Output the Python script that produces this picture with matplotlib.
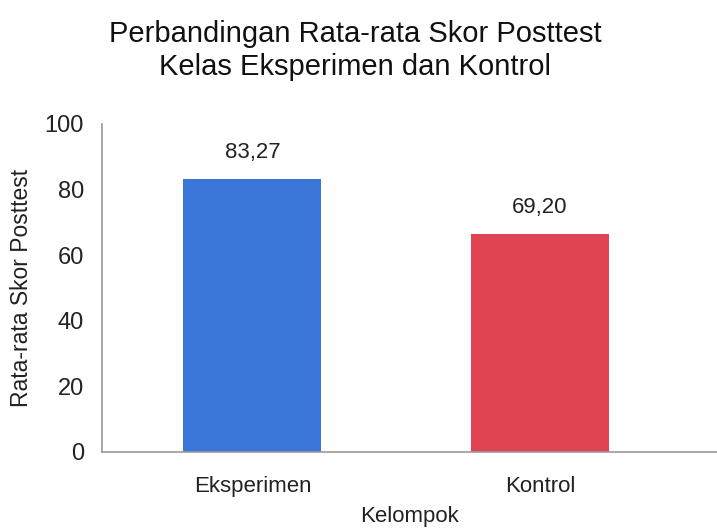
import matplotlib.pyplot as plt

# data
kelompok = ["Eksperimen", "Kontrol"]
skor = [83.27, 66.5]          # bar heights as drawn
label_skor = ["83,27", "69,20"]  # labels as printed on the chart
warna = ["#3a76d8", "#e04452"]

plt.rcParams['font.family'] = ['Liberation Sans', 'DejaVu Sans']

fig = plt.figure(figsize=(7.17, 5.31), dpi=100)
ax = fig.add_axes([0.1423, 0.1488, 0.8577, 0.6177])

x = range(len(kelompok))
bars = ax.bar(x, skor, width=0.48, color=warna)

for b, t in zip(bars, label_skor):
    ax.text(b.get_x() + b.get_width() / 2, b.get_height() + 4.8, t,
            ha='center', va='bottom', fontsize=16, color='#222222')

ax.set_xlim(-0.523, 1.616)
ax.set_ylim(0, 100)
ax.set_yticks([0, 20, 40, 60, 80, 100])
ax.set_xticks(list(x))
ax.set_xticklabels(kelompok)
ax.tick_params(axis='both', length=0, labelsize=17, colors='#222222')
ax.tick_params(axis='x', labelsize=16, pad=17)
ax.tick_params(axis='y', pad=13)

for s in ['top', 'right']:
    ax.spines[s].set_visible(False)
for s in ['left', 'bottom']:
    ax.spines[s].set_color('#9a9a9a')
    ax.spines[s].set_linewidth(1.2)

ax.set_ylabel("Rata-rata Skor Posttest", fontsize=16.5, labelpad=8, color='#222222')
ax.set_xlabel("Kelompok", fontsize=16, labelpad=7, color='#222222')

fig.text(0.495, 0.905, "Perbandingan Rata-rata Skor Posttest\nKelas Eksperimen dan Kontrol",
         ha='center', va='center', fontsize=21, linespacing=1.25, color='#111111')

fig.savefig("out.png", dpi=100)
